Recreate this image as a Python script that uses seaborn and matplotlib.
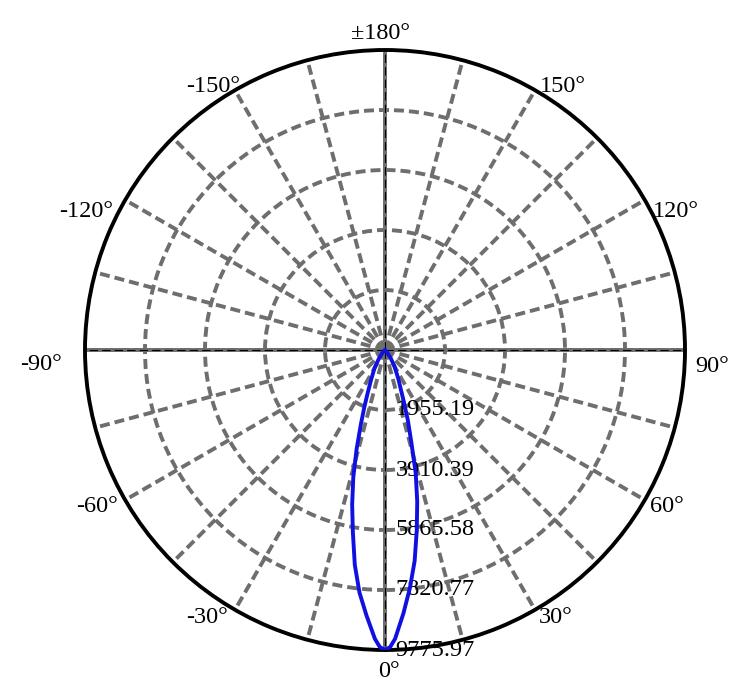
import numpy as np
import pandas as pd
import matplotlib
matplotlib.use("Agg")
import matplotlib.pyplot as plt
import seaborn as sns
from matplotlib.transforms import offset_copy

sns.set_style("white")
plt.rcParams['font.family'] = ['Liberation Serif', 'DejaVu Serif']
plt.rcParams['lines.scale_dashes'] = False
plt.rcParams['text.color'] = 'black'

# ---- data ----
angles_deg = [-180, -90, -50, -45, -40, -35, -30, -25, -22, -20, -18, -16, -14, -12, -10,
              -8, -6, -4, -2, -1, 0, 1, 2, 4, 6, 8, 10, 12, 14, 16, 18, 20, 22, 25, 30, 35,
              40, 45, 50, 90, 180]
intensity = [0, 0, 0, 49, 163, 358, 684, 1075, 1499, 1955, 2542, 3356, 4269, 5149, 6029,
             7071, 7951, 8668, 9418, 9680, 9775.97, 9680, 9418, 8603, 7788, 6941, 5963, 5051,
             4139, 3096, 2411, 1792, 1369, 1010, 619, 326, 130, 33, 0, 0, 0]
r_max = 9775.97
ring_values = [1955.19, 3910.39, 5865.58, 7820.77, 9775.97]
ring_labels = ["1955.19", "3910.39", "5865.58", "7820.77", "9775.97"]
theta_tick_deg = [0, 30, 60, 90, 120, 150, 180, -150, -120, -90, -60, -30]
theta_tick_labels = ["0°", "30°", "60°", "90°", "120°", "150°", "±180°",
                     "-150°", "-120°", "-90°", "-60°", "-30°"]

df = pd.DataFrame({"theta": np.deg2rad(angles_deg), "cd": intensity})

W, H = 751, 695
fig = plt.figure(figsize=(W / 100, H / 100), dpi=100)
ax = fig.add_axes([85 / W, 45 / H, 600 / W, 600 / H], projection='polar')
ax.set_theta_zero_location('S')
ax.set_theta_direction(1)
ax.set_ylim(0, r_max)

grey = '#6e6e6e'
lw = 2.8
# grid
ax.set_xticks(np.deg2rad(np.arange(0, 360, 15)))
ax.set_xticklabels([])
ax.set_yticks(ring_values[:-1])
ax.set_yticklabels([])
ax.grid(True, color=grey, linewidth=lw, linestyle=(0, (7.2, 3.6)))
ax.tick_params(length=0)
for a in [0, 90, 180, 270]:
    ax.axvline(np.deg2rad(a), color=grey, linewidth=lw, zorder=2)
    ax.axvline(np.deg2rad(a), color='black', linewidth=0.8,
               linestyle=(0, (6, 3)), zorder=2.5)
ax.spines['polar'].set_color('black')
ax.spines['polar'].set_linewidth(lw)

# curve
sns.lineplot(data=df, x="theta", y="cd", ax=ax, sort=False, color='#1010e0',
             linewidth=2.8, zorder=5, estimator=None)
ax.set_xlabel("")
ax.set_ylabel("")

fs = 17.5
# ring labels
trans_r = offset_copy(ax.transData, fig=fig, x=7.5, y=0, units='points')
for v, lab in zip(ring_values, ring_labels):
    ax.text(0, v, lab, transform=trans_r, ha='left', va='center', fontsize=fs,
            color='black', zorder=4)

# angle labels: (ha, px offset x, px offset y of baseline relative to circle point)
label_pos = {
    0: ('center', 4, 27), 30: ('left', 4, 13), 60: ('left', 5, 12), 90: ('left', 10, 22),
    120: ('left', 8, 17), 150: ('left', 5, 2), 180: ('center', -5, -11),
    -150: ('right', 5, 2), -120: ('right', -12, 17), -90: ('right', -23, 20),
    -60: ('right', -7, 12), -30: ('right', -7, 13),
}
for a, lab in zip(theta_tick_deg, theta_tick_labels):
    ha, dx, dy = label_pos[a]
    tr = offset_copy(ax.transData, fig=fig, x=dx * 0.72, y=-dy * 0.72, units='points')
    ax.text(np.deg2rad(a), r_max, lab, transform=tr, ha=ha, va='baseline',
            fontsize=fs, color='black', clip_on=False)

fig.savefig("out.png", dpi=100)
